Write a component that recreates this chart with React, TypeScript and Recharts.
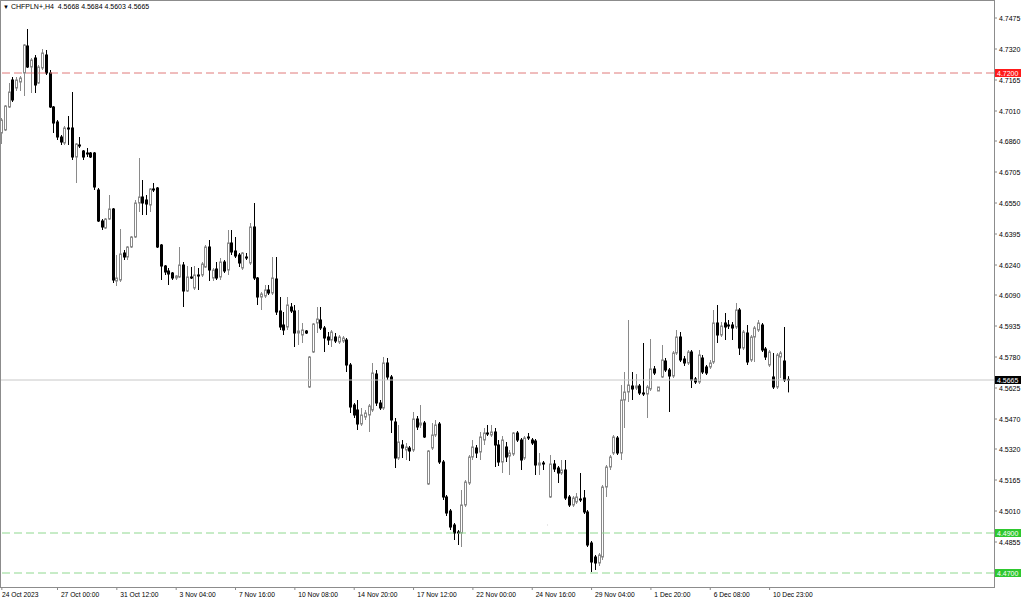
import React from 'react';
import { ComposedChart, Bar, XAxis, YAxis, ReferenceLine } from 'recharts';

// ---- data (CHFPLN+, H4) ----
const opens = [
  4.6900, 4.6915, 4.7030, 4.7165, 4.7125, 4.7155, 4.7200, 4.7335, 4.7230, 4.7275,
  4.7150, 4.7225, 4.7290, 4.7200, 4.7030, 4.6955, 4.6880, 4.6850, 4.6925, 4.6925,
  4.6780, 4.6840, 4.6810, 4.6800, 4.6800, 4.6800, 4.6615, 4.6460, 4.6425, 4.6470,
  4.6520, 4.6160, 4.6165, 4.6300, 4.6280, 4.6330, 4.6380, 4.6550, 4.6580, 4.6565,
  4.6540, 4.6620, 4.6625, 4.6340, 4.6235, 4.6210, 4.6200, 4.6175, 4.6180, 4.6240,
  4.6110, 4.6180, 4.6125, 4.6190, 4.6190, 4.6230, 4.6330, 4.6175, 4.6220, 4.6180,
  4.6255, 4.6215, 4.6350, 4.6310, 4.6290, 4.6225, 4.6280, 4.6250, 4.6430, 4.6175,
  4.6080, 4.6085, 4.6115, 4.6100, 4.6170, 4.6010, 4.5940, 4.5930, 4.6030, 4.6010,
  4.5900, 4.5890, 4.5910, 4.5630, 4.5805, 4.5950, 4.5965, 4.5925, 4.5880, 4.5865,
  4.5880, 4.5855, 4.5860, 4.5865, 4.5740, 4.5540, 4.5515, 4.5445, 4.5480, 4.5490,
  4.5515, 4.5695, 4.5550, 4.5525, 4.5750, 4.5680, 4.5455, 4.5275, 4.5340, 4.5315,
  4.5325, 4.5315, 4.5470, 4.5440, 4.5450, 4.5145, 4.5325, 4.5390, 4.5445, 4.5255,
  4.5080, 4.5010, 4.4940, 4.4905, 4.4900, 4.5040, 4.5150, 4.5280, 4.5325, 4.5305,
  4.5365, 4.5400, 4.5390, 4.5405, 4.5340, 4.5255, 4.5330, 4.5285, 4.5295, 4.5400,
  4.5365, 4.5275, 4.5380, 4.5365, 4.5360, 4.5240, 4.5250, 4.4940, 4.5080, 4.5245,
  4.5225, 4.5200, 4.5215, 4.5080, 4.5040, 4.5055, 4.5070, 4.5075, 4.5005, 4.4850,
  4.4780, 4.4750, 4.4780, 4.5130, 4.5230, 4.5300, 4.5375, 4.5300, 4.5565, 4.5605,
  4.5635, 4.5625, 4.5635, 4.5600, 4.5595, 4.5620, 4.5720, 4.5610, 4.5680, 4.5760,
  4.5715, 4.5685, 4.5800, 4.5880, 4.5770, 4.5750, 4.5805, 4.5670, 4.5655, 4.5775,
  4.5730, 4.5730, 4.5755, 4.5950, 4.5890, 4.5950, 4.5940, 4.5940, 4.5930, 4.6015,
  4.5825, 4.5900, 4.5765, 4.5880, 4.5915, 4.5940, 4.5820, 4.5740, 4.5680, 4.5630,
  4.5780, 4.5760, 4.5668,
];
const highs = [
  4.6975, 4.7040, 4.7150, 4.7180, 4.7180, 4.7185, 4.7345, 4.7420, 4.7275, 4.7290,
  4.7240, 4.7320, 4.7315, 4.7215, 4.7035, 4.6965, 4.6890, 4.6935, 4.6985, 4.7105,
  4.6850, 4.6880, 4.6815, 4.6825, 4.6805, 4.6805, 4.6625, 4.6470, 4.6475, 4.6590,
  4.6525, 4.6290, 4.6420, 4.6315, 4.6335, 4.6385, 4.6565, 4.6775, 4.6665, 4.6590,
  4.6625, 4.6650, 4.6630, 4.6345, 4.6240, 4.6225, 4.6205, 4.6190, 4.6330, 4.6255,
  4.6235, 4.6230, 4.6235, 4.6225, 4.6255, 4.6340, 4.6365, 4.6225, 4.6255, 4.6275,
  4.6265, 4.6415, 4.6415, 4.6380, 4.6300, 4.6305, 4.6300, 4.6450, 4.6550, 4.6180,
  4.6105, 4.6140, 4.6140, 4.6280, 4.6280, 4.6080, 4.6005, 4.6080, 4.6050, 4.6040,
  4.6015, 4.5950, 4.5915, 4.5785, 4.5950, 4.6030, 4.6030, 4.5935, 4.5905, 4.5915,
  4.5900, 4.5890, 4.5885, 4.5875, 4.5750, 4.5550, 4.5565, 4.5525, 4.5515, 4.5545,
  4.5750, 4.5715, 4.5565, 4.5780, 4.5775, 4.5690, 4.5475, 4.5440, 4.5365, 4.5350,
  4.5335, 4.5505, 4.5485, 4.5540, 4.5460, 4.5315, 4.5450, 4.5465, 4.5455, 4.5265,
  4.5090, 4.5020, 4.4950, 4.4915, 4.5115, 4.5165, 4.5290, 4.5365, 4.5340, 4.5405,
  4.5425, 4.5440, 4.5440, 4.5425, 4.5365, 4.5385, 4.5355, 4.5315, 4.5405, 4.5410,
  4.5375, 4.5385, 4.5400, 4.5375, 4.5370, 4.5300, 4.5260, 4.4941, 4.5290, 4.5265,
  4.5235, 4.5265, 4.5265, 4.5090, 4.5085, 4.5100, 4.5200, 4.5115, 4.5015, 4.4860,
  4.4790, 4.4800, 4.5140, 4.5240, 4.5290, 4.5390, 4.5385, 4.5640, 4.5705, 4.5965,
  4.5705, 4.5695, 4.5645, 4.5850, 4.5640, 4.5870, 4.5735, 4.5630, 4.5840, 4.5775,
  4.5725, 4.5810, 4.5915, 4.5905, 4.5785, 4.5815, 4.5815, 4.5680, 4.5815, 4.5790,
  4.5740, 4.5765, 4.6015, 4.6040, 4.5955, 4.6000, 4.5965, 4.5955, 4.6050, 4.6025,
  4.5915, 4.5940, 4.5890, 4.5935, 4.5965, 4.5950, 4.5830, 4.5815, 4.5800, 4.5800,
  4.5810, 4.5930, 4.5684,
];
const lows = [
  4.6845, 4.6910, 4.7025, 4.7055, 4.7110, 4.7110, 4.7085, 4.7225, 4.7100, 4.7100,
  4.7145, 4.7215, 4.7190, 4.7025, 4.6900, 4.6865, 4.6840, 4.6840, 4.6840, 4.6765,
  4.6650, 4.6825, 4.6765, 4.6780, 4.6775, 4.6615, 4.6455, 4.6415, 4.6420, 4.6465,
  4.6150, 4.6135, 4.6155, 4.6265, 4.6265, 4.6325, 4.6375, 4.6505, 4.6490, 4.6490,
  4.6505, 4.6605, 4.6325, 4.6165, 4.6190, 4.6140, 4.6165, 4.6165, 4.6175, 4.6030,
  4.6105, 4.6170, 4.6115, 4.6115, 4.6180, 4.6225, 4.6160, 4.6160, 4.6165, 4.6165,
  4.6200, 4.6190, 4.6290, 4.6275, 4.6230, 4.6215, 4.6265, 4.6240, 4.6165, 4.6040,
  4.6015, 4.6075, 4.6090, 4.6090, 4.5990, 4.5915, 4.5890, 4.5915, 4.6000, 4.5830,
  4.5840, 4.5850, 4.5895, 4.5625, 4.5800, 4.5900, 4.5915, 4.5805, 4.5840, 4.5830,
  4.5850, 4.5845, 4.5850, 4.5705, 4.5500, 4.5475, 4.5415, 4.5435, 4.5465, 4.5405,
  4.5505, 4.5535, 4.5515, 4.5515, 4.5665, 4.5400, 4.5225, 4.5265, 4.5275, 4.5265,
  4.5260, 4.5305, 4.5415, 4.5425, 4.5375, 4.5140, 4.5315, 4.5380, 4.5245, 4.5065,
  4.4985, 4.4915, 4.4865, 4.4840, 4.4830, 4.5030, 4.5140, 4.5265, 4.5275, 4.5265,
  4.5340, 4.5385, 4.5380, 4.5230, 4.5235, 4.5200, 4.5255, 4.5190, 4.5285, 4.5355,
  4.5215, 4.5265, 4.5365, 4.5340, 4.5190, 4.5190, 4.5215, 4.4939, 4.5075, 4.5205,
  4.5150, 4.5190, 4.5065, 4.5030, 4.5030, 4.5045, 4.5055, 4.4995, 4.4830, 4.4705,
  4.4715, 4.4735, 4.4765, 4.5080, 4.5215, 4.5290, 4.5290, 4.5265, 4.5425, 4.5555,
  4.5565, 4.5615, 4.5590, 4.5585, 4.5475, 4.5610, 4.5690, 4.5610, 4.5675, 4.5705,
  4.5505, 4.5675, 4.5790, 4.5755, 4.5735, 4.5740, 4.5625, 4.5645, 4.5645, 4.5695,
  4.5690, 4.5720, 4.5745, 4.5850, 4.5880, 4.5865, 4.5920, 4.5865, 4.5920, 4.5790,
  4.5815, 4.5740, 4.5755, 4.5755, 4.5905, 4.5805, 4.5765, 4.5730, 4.5620, 4.5620,
  4.5675, 4.5655, 4.5603,
];
const closes = [
  4.6965, 4.7035, 4.7105, 4.7065, 4.7165, 4.7175, 4.7340, 4.7230, 4.7265, 4.7140,
  4.7230, 4.7300, 4.7200, 4.7030, 4.6950, 4.6880, 4.6855, 4.6925, 4.6920, 4.6780,
  4.6845, 4.6835, 4.6780, 4.6795, 4.6780, 4.6630, 4.6460, 4.6430, 4.6470, 4.6520,
  4.6165, 4.6175, 4.6295, 4.6280, 4.6330, 4.6380, 4.6550, 4.6580, 4.6550, 4.6545,
  4.6620, 4.6615, 4.6330, 4.6235, 4.6205, 4.6195, 4.6175, 4.6185, 4.6240, 4.6110,
  4.6180, 4.6175, 4.6190, 4.6185, 4.6245, 4.6330, 4.6215, 4.6215, 4.6175, 4.6255,
  4.6210, 4.6350, 4.6305, 4.6285, 4.6250, 4.6300, 4.6275, 4.6430, 4.6175, 4.6080,
  4.6095, 4.6115, 4.6100, 4.6175, 4.6005, 4.5930, 4.5915, 4.6040, 4.6010, 4.5900,
  4.5910, 4.5915, 4.5900, 4.5780, 4.5945, 4.5970, 4.5925, 4.5875, 4.5865, 4.5905,
  4.5860, 4.5880, 4.5875, 4.5740, 4.5530, 4.5490, 4.5445, 4.5490, 4.5500, 4.5535,
  4.5700, 4.5550, 4.5525, 4.5750, 4.5680, 4.5465, 4.5275, 4.5355, 4.5325, 4.5330,
  4.5310, 4.5470, 4.5430, 4.5450, 4.5380, 4.5310, 4.5390, 4.5440, 4.5255, 4.5080,
  4.5000, 4.4930, 4.4900, 4.4900, 4.5040, 4.5155, 4.5280, 4.5330, 4.5300, 4.5380,
  4.5400, 4.5395, 4.5405, 4.5340, 4.5255, 4.5365, 4.5280, 4.5300, 4.5400, 4.5365,
  4.5265, 4.5375, 4.5375, 4.5350, 4.5240, 4.5250, 4.5245, 4.4940, 4.5245, 4.5220,
  4.5200, 4.5215, 4.5075, 4.5040, 4.5075, 4.5080, 4.5065, 4.5005, 4.4840, 4.4755,
  4.4750, 4.4790, 4.5130, 4.5230, 4.5280, 4.5380, 4.5300, 4.5565, 4.5605, 4.5640,
  4.5620, 4.5635, 4.5600, 4.5595, 4.5630, 4.5720, 4.5700, 4.5630, 4.5765, 4.5715,
  4.5685, 4.5800, 4.5880, 4.5765, 4.5750, 4.5805, 4.5665, 4.5655, 4.5790, 4.5705,
  4.5700, 4.5750, 4.5950, 4.5890, 4.5935, 4.5930, 4.5935, 4.5925, 4.6015, 4.5825,
  4.5905, 4.5755, 4.5880, 4.5925, 4.5950, 4.5815, 4.5780, 4.5805, 4.5630, 4.5790,
  4.5800, 4.5665, 4.5665,
];

const timeTickIndex = [0, 15, 31, 47, 63, 79, 95, 111, 127, 143, 159, 175, 191, 207];
const timeTickLabels = [
  '24 Oct 2023', '27 Oct 00:00', '31 Oct 12:00', '3 Nov 04:00', '7 Nov 16:00',
  '10 Nov 08:00', '14 Nov 20:00', '17 Nov 12:00', '22 Nov 00:00', '24 Nov 16:00',
  '29 Nov 04:00', '1 Dec 20:00', '6 Dec 08:00', '10 Dec 23:00',
];
const priceTicks = [
  4.7475, 4.7320, 4.7165, 4.7010, 4.6860, 4.6705, 4.6550, 4.6395, 4.6240,
  4.6090, 4.5935, 4.5780, 4.5625, 4.5470, 4.5320, 4.5165, 4.5010, 4.4855,
];
const levelValues = [4.7200, 4.5665, 4.4900, 4.4700];
const levelKinds = ['alert-red', 'bid', 'alert-green', 'alert-green'];

const symbolTitle = 'CHFPLN+,H4';
const ohlcTitle = ['4.5668', '4.5684', '4.5603', '4.5665'];

// ---- layout / style constants ----
const W = 1024;
const H = 600;
const PLOT_RIGHT = 994;
const PLOT_BOTTOM = 587;
const SLOTS = 268; // bars plus empty space on the right (chart shift)
const FONT = '"Liberation Sans", Arial, sans-serif';

const levelStyle: Record<string, { line: string; dash?: string; bg: string }> = {
  'alert-red': { line: '#e07a7a', dash: '8 4', bg: '#ff1a1a' },
  bid: { line: '#c8c8c8', bg: '#000000' },
  'alert-green': { line: '#8fd88f', dash: '8 4', bg: '#2ec82e' },
};

const data = Array.from({ length: SLOTS }, (_, i) =>
  i < opens.length
    ? { i, open: opens[i], high: highs[i], low: lows[i], close: closes[i], range: [lows[i], highs[i]] }
    : { i }
);

function Candle(props: any) {
  const { x, y, width, height, payload } = props;
  if (!payload || payload.open == null || x == null || isNaN(y)) return null;
  const { open, close, high, low } = payload;
  const span = high - low;
  const py = (v: number) => (span > 0 ? y + ((high - v) / span) * height : y);
  const cx = Math.floor(x + width / 2) + 0.5;
  const bull = close >= open;
  const top = py(Math.max(open, close));
  const bot = py(Math.min(open, close));
  const stroke = bull ? '#8a8a8a' : '#000000';
  const fill = bull ? '#ffffff' : '#000000';
  return (
    <g>
      <line x1={cx} x2={cx} y1={py(high)} y2={py(low)} stroke={stroke} strokeWidth={1} />
      <rect x={cx - 1} y={top} width={2} height={Math.max(bot - top, 0)} fill={fill} stroke={stroke} strokeWidth={1} />
    </g>
  );
}

function TimeTick(props: any) {
  const { x, payload } = props;
  const k = timeTickIndex.indexOf(payload.value);
  if (k < 0) return null;
  const tx = payload.value === 0 ? 2 : x + 3.4;
  return (
    <g>
      <line x1={x} x2={x} y1={PLOT_BOTTOM} y2={PLOT_BOTTOM + 3} stroke="#888" />
      <text x={tx} y={PLOT_BOTTOM + 10} fontSize={6.7} fontFamily={FONT} fill="#000">
        {timeTickLabels[k]}
      </text>
    </g>
  );
}

function PriceTick(props: any) {
  const { y, payload } = props;
  return (
    <g>
      <line x1={PLOT_RIGHT} x2={PLOT_RIGHT + 3} y1={y} y2={y} stroke="#888" />
      <text x={PLOT_RIGHT + 5} y={y + 2.5} fontSize={7} fontFamily={FONT} fill="#000">
        {Number(payload.value).toFixed(4)}
      </text>
    </g>
  );
}

function LevelTag(props: any) {
  const { viewBox, value, bg } = props;
  if (!viewBox) return null;
  const left = viewBox.x + viewBox.width + 1;
  const y = viewBox.y;
  return (
    <g>
      <rect x={left} y={y - 4} width={26} height={8} fill={bg} />
      <text x={left + 2} y={y + 2.5} fontSize={7} fontFamily={FONT} fill="#fff">
        {value.toFixed(4)}
      </text>
    </g>
  );
}

export default function App() {
  return (
    <div style={{ position: 'absolute', left: 0, top: 0, width: W, height: H, background: '#fff' }}>
      <ComposedChart
        width={W}
        height={H}
        data={data}
        margin={{ top: 1, right: 0, bottom: 0, left: 0 }}
        barCategoryGap="10%"
      >
        <XAxis
          dataKey="i"
          type="category"
          ticks={timeTickIndex}
          interval={0}
          height={H - PLOT_BOTTOM}
          tick={<TimeTick />}
          tickLine={false}
          axisLine={false}
        />
        <YAxis
          orientation="right"
          type="number"
          width={W - PLOT_RIGHT}
          domain={[4.463, 4.756]}
          allowDataOverflow
          ticks={priceTicks}
          interval={0}
          tick={<PriceTick />}
          tickLine={false}
          axisLine={false}
        />
        {levelValues.map((v, k) => {
          const st = levelStyle[levelKinds[k]];
          return (
            <ReferenceLine
              key={k}
              y={v}
              stroke={st.line}
              strokeDasharray={st.dash}
              strokeWidth={1}
              label={<LevelTag value={v} bg={st.bg} />}
            />
          );
        })}
        <Bar dataKey="range" shape={Candle} isAnimationActive={false} />
      </ComposedChart>
      <div
        style={{
          position: 'absolute', left: 0, top: 0, width: PLOT_RIGHT + 1, height: PLOT_BOTTOM + 1,
          border: '1px solid #8c8c8c', boxSizing: 'border-box', pointerEvents: 'none',
        }}
      />
      <div
        style={{
          position: 'absolute', left: 3, top: 2, fontFamily: FONT, fontSize: 7, lineHeight: '9px',
          color: '#000', whiteSpace: 'pre',
        }}
      >
        <span style={{ fontSize: 6 }}>{'\u25BC'}</span>
        {' ' + symbolTitle + '  ' + ohlcTitle.join(' ')}
      </div>
    </div>
  );
}
